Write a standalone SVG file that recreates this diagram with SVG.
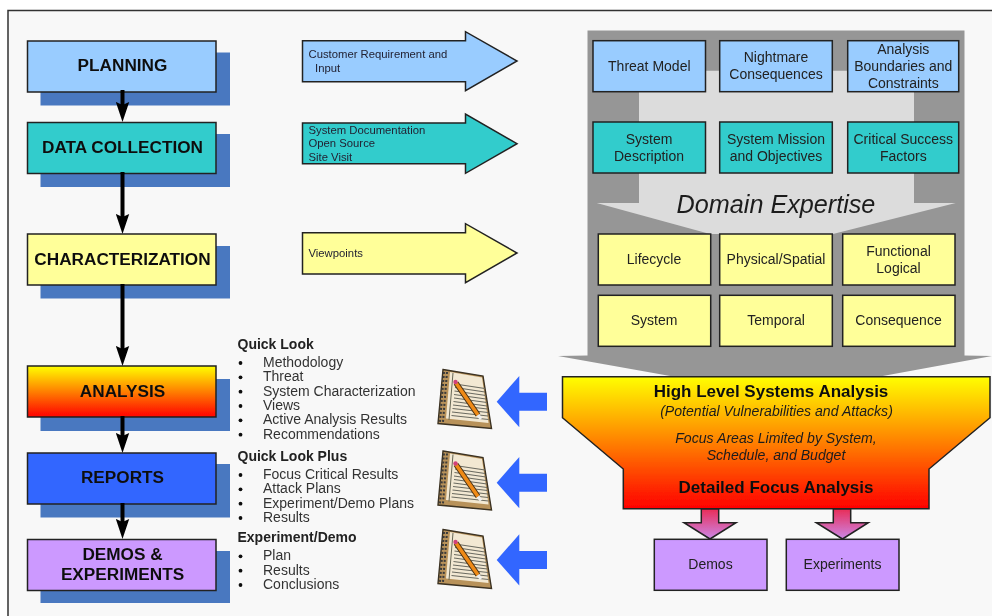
<svg xmlns="http://www.w3.org/2000/svg" xmlns:xlink="http://www.w3.org/1999/xlink" width="992" height="616" viewBox="0 0 992 616">
<style>
text{font-family:"Liberation Sans",Arial,sans-serif;fill:#1c1c1c}
.b{stroke:#222;stroke-width:1.5}
.sh{fill:#4a78c0}
.t{font-weight:bold;font-size:17.2px;text-anchor:middle;fill:#111}
.c{font-size:14px;text-anchor:middle;fill:#222}
.a{font-size:11.3px;fill:#223}
.h{font-weight:bold;font-size:14px;fill:#222}
.i{font-size:14px;fill:#333}
.blue{fill:#99ccff}.teal{fill:#33cccc}.yel{fill:#ffff99}.pur{fill:#cc99ff}
.bl{fill:#3366ff}
.con{stroke:#000;stroke-width:4;fill:none}
.hb{font-size:17px;font-weight:bold;text-anchor:middle;fill:#111}
.it{font-size:14.1px;font-style:italic;text-anchor:middle}
</style>
<defs>
<filter id="soft" filterUnits="userSpaceOnUse" x="0" y="0" width="992" height="616"><feGaussianBlur stdDeviation="0.45"/></filter>
<linearGradient id="fire" x1="0" y1="0" x2="0" y2="1"><stop offset="0" stop-color="#ffff00"/><stop offset="1" stop-color="#ff0000"/></linearGradient>
<linearGradient id="pink" x1="0" y1="0" x2="0" y2="1"><stop offset="0" stop-color="#e82c58"/><stop offset="1" stop-color="#cc88e8"/></linearGradient>
<marker id="ah" markerUnits="userSpaceOnUse" markerWidth="20" markerHeight="14" refX="4" refY="7" viewBox="0 0 20 14" orient="auto"><path d="M0 0.3L20 7L0 13.7L3 7Z" fill="#000"/></marker>
<g id="book">
<path d="M443 369.5L483 376L491.5 428.5L438 423.5Z" fill="#b8925a" stroke="#3a3020" stroke-width="1.4"/>
<path d="M450 372L482 377.5L488.5 423L446 418.5Z" fill="#f2e8d2"/>
<path d="M453 373L449 420" stroke="#665" stroke-width="1" fill="none"/>
<path d="M455 384L485 388.5M455 387.5L485 392M454.500 391L486 395.500M454 394.500L486 399M454 398L487 402.500M453.500 401.500L487 406M453 405L487.500 409M452.500 408.500L488 412.500M452 412L488 416M451.500 415.500L488.500 419.500" stroke="#6a6a60" stroke-width="1.1" fill="none"/>
<path d="M444 372L440 422M447 372L443 422" stroke="#3a3a3a" stroke-width="2" stroke-dasharray="2 2" fill="none"/>
<path d="M456 383L478 415" stroke="#4a3214" stroke-width="5.5"/>
<path d="M456 383L478 415" stroke="#ef8a18" stroke-width="3.5"/>
<circle cx="455.500" cy="382" r="2.2" fill="#d0407a"/>
<path d="M478 415L481 419" stroke="#eee" stroke-width="3"/>
</g>
<path id="lArrow" d="M547 392.7H519.3V376L496.7 401.7L519.3 427.3V410.7H547Z"/>
</defs>
<rect width="992" height="616" fill="#fff"/>
<g filter="url(#soft)">
<path id="frame" d="M8 630V10.5H1010V630Z" fill="#f8f8f8" stroke="#333" stroke-width="1.5"/>

<g id="panel">
<path d="M587.5 30.5H964.5V355.5L992 356L880 376.5H673L558 356L587.5 355.5Z" fill="#969696"/>
<path d="M639 70.7H914V203L955.7 203L833 234H710L596.7 203L639 203Z" fill="#dcdcdc"/>
</g>

<g id="planning"><rect class="sh" x="40.5" y="52.5" width="189.5" height="53"/><rect class="b blue" x="27.5" y="41" width="188.5" height="51"/><text class="t" x="122.500" y="71">PLANNING</text></g>
<g id="data-collection"><rect class="sh" x="40.5" y="134" width="189.5" height="53"/><rect class="b teal" x="27.5" y="122.5" width="188.5" height="51"/><text class="t" x="122.500" y="152.5">DATA COLLECTION</text></g>
<g id="characterization"><rect class="sh" x="40.5" y="246" width="189.5" height="52.5"/><rect class="b yel" x="27.5" y="234" width="188.5" height="51"/><text class="t" x="122.500" y="264.500">CHARACTERIZATION</text></g>
<g id="analysis"><rect class="sh" x="40.5" y="379" width="189.5" height="52"/><rect class="b" fill="url(#fire)" x="27.5" y="366" width="188.5" height="51"/><text class="t" x="122.500" y="396.500">ANALYSIS</text></g>
<g id="reports"><rect class="sh" x="40.5" y="464" width="189.5" height="53.5"/><rect class="b bl" x="27.5" y="453" width="188.5" height="51"/><text class="t" x="122.500" y="483">REPORTS</text></g>
<g id="demos-experiments"><rect class="sh" x="40.5" y="551" width="189.5" height="52"/><rect class="b pur" x="27.5" y="539.5" width="188.5" height="51"/><text class="t" x="122.500" y="559.500">DEMOS &amp;</text><text class="t" x="122.500" y="580">EXPERIMENTS</text></g>

<g id="connectors">
<path class="con" d="M122.500 90V106" marker-end="url(#ah)"/>
<path class="con" d="M122.500 172V218" marker-end="url(#ah)"/>
<path class="con" d="M122.500 284V350" marker-end="url(#ah)"/>
<path class="con" d="M122.500 416V437" marker-end="url(#ah)"/>
<path class="con" d="M122.500 503V523" marker-end="url(#ah)"/>
</g>

<g id="input-customer"><path class="b blue" d="M302.5 40.7H465.5V31.7L517 61L465.5 90.7V81.7H302.5Z"/><text class="a" x="308.5" y="57.5">Customer Requirement and</text><text class="a" x="315" y="71.5">Input</text></g>
<g id="input-documentation"><path class="b teal" d="M302.5 123H465.5V114L517 143.7L465.5 173.3V163.7H302.5Z"/><text class="a" x="308.5" y="133.5">System Documentation</text><text class="a" x="308.5" y="147">Open Source</text><text class="a" x="308.5" y="160.5">Site Visit</text></g>
<g id="input-viewpoints"><path class="b yel" d="M302.5 232.7H465.5V223.7L517 253L465.5 282.7V274H302.5Z"/><text class="a" x="308.5" y="256.5">Viewpoints</text></g>

<g id="threat-model"><rect class="b blue" x="593" y="40.7" width="112.5" height="51"/><text class="c" x="649.3" y="70.5">Threat Model</text></g>
<g id="nightmare"><rect class="b blue" x="719.7" y="40.7" width="112.6" height="51"/><text class="c" x="776" y="62">Nightmare</text><text class="c" x="776" y="79">Consequences</text></g>
<g id="boundaries"><rect class="b blue" x="847.7" y="40.7" width="111" height="51"/><text class="c" x="903.3" y="53.5">Analysis</text><text class="c" x="903.3" y="70.5">Boundaries and</text><text class="c" x="903.3" y="87.5">Constraints</text></g>
<g id="system-description"><rect class="b teal" x="593" y="122" width="112.5" height="51"/><text class="c" x="649" y="143.5">System</text><text class="c" x="649" y="160.5">Description</text></g>
<g id="mission"><rect class="b teal" x="719.7" y="122" width="112.6" height="51"/><text class="c" x="776" y="143.5">System Mission</text><text class="c" x="776" y="160.5">and Objectives</text></g>
<g id="success"><rect class="b teal" x="847.7" y="122" width="111" height="51"/><text class="c" x="903.3" y="143.5">Critical Success</text><text class="c" x="903.3" y="160.5">Factors</text></g>

<text id="domain" x="776" y="213" font-size="25.2" font-style="italic" text-anchor="middle">Domain Expertise</text>

<g id="lifecycle"><rect class="b yel" x="598.3" y="234" width="112.4" height="51"/><text class="c" x="654" y="264">Lifecycle</text></g>
<g id="physical"><rect class="b yel" x="719.7" y="234" width="112.6" height="51"/><text class="c" x="776" y="264">Physical/Spatial</text></g>
<g id="functional"><rect class="b yel" x="842.7" y="234" width="112.3" height="51"/><text class="c" x="898.5" y="255.5">Functional</text><text class="c" x="898.5" y="272.5">Logical</text></g>
<g id="system"><rect class="b yel" x="598.3" y="295.3" width="112.4" height="51"/><text class="c" x="654" y="325">System</text></g>
<g id="temporal"><rect class="b yel" x="719.7" y="295.3" width="112.6" height="51"/><text class="c" x="776" y="325">Temporal</text></g>
<g id="consequence"><rect class="b yel" x="842.7" y="295.3" width="112.3" height="51"/><text class="c" x="898.5" y="325">Consequence</text></g>

<g id="funnel"><path class="b" fill="url(#fire)" d="M562.5 376.7H990V417.7L929 469V508.7H623.3V469L562.5 417.7Z"/>
<text class="hb" x="771" y="396.7">High Level Systems Analysis</text>
<text class="it" x="776.500" y="415.7">(Potential Vulnerabilities and Attacks)</text>
<text class="it" x="776" y="443">Focus Areas Limited by System,</text>
<text class="it" x="776" y="460">Schedule, and Budget</text>
<text class="hb" x="776" y="493">Detailed Focus Analysis</text></g>

<g id="arrows-down">
<path class="b" stroke-width="1" fill="url(#pink)" d="M701.3 509V522.7H684L710 539L736 522.7H718.7V509Z"/>
<path class="b" stroke-width="1" fill="url(#pink)" d="M833.3 509V522.7H816.3L842.5 539L868.3 522.7H850.7V509Z"/>
</g>
<g id="demos"><rect class="b pur" x="654.3" y="539.3" width="112.7" height="51"/><text class="c" x="710.5" y="569">Demos</text></g>
<g id="experiments"><rect class="b pur" x="786.3" y="539.3" width="112.7" height="51"/><text class="c" x="842.5" y="569">Experiments</text></g>

<g id="quick-look">
<text class="h" x="237.5" y="349">Quick Look</text>
<text class="i" x="263" y="367">Methodology</text><text class="i" x="263" y="381.3">Threat</text><text class="i" x="263" y="395.7">System Characterization</text><text class="i" x="263" y="410">Views</text><text class="i" x="263" y="424.3">Active Analysis Results</text><text class="i" x="263" y="438.7">Recommendations</text>
<g fill="#111"><circle cx="240.5" cy="363" r="1.9"/><circle cx="240.5" cy="377.3" r="1.9"/><circle cx="240.5" cy="391.7" r="1.9"/><circle cx="240.5" cy="406" r="1.9"/><circle cx="240.5" cy="420.3" r="1.9"/><circle cx="240.5" cy="434.7" r="1.9"/></g>
</g>
<g id="quick-look-plus">
<text class="h" x="237.5" y="460.7">Quick Look Plus</text>
<text class="i" x="263" y="479">Focus Critical Results</text><text class="i" x="263" y="493.3">Attack Plans</text><text class="i" x="263" y="507.7">Experiment/Demo Plans</text><text class="i" x="263" y="522">Results</text>
<g fill="#111"><circle cx="240.5" cy="475" r="1.9"/><circle cx="240.5" cy="489.3" r="1.9"/><circle cx="240.5" cy="503.7" r="1.9"/><circle cx="240.5" cy="518" r="1.9"/></g>
</g>
<g id="experiment-demo">
<text class="h" x="237.5" y="542.3">Experiment/Demo</text>
<text class="i" x="263" y="560.3">Plan</text><text class="i" x="263" y="574.7">Results</text><text class="i" x="263" y="589">Conclusions</text>
<g fill="#111"><circle cx="240.5" cy="556.3" r="1.9"/><circle cx="240.5" cy="570.7" r="1.9"/><circle cx="240.5" cy="585" r="1.9"/></g>
</g>

<g id="notebook-1"><use href="#book"/></g>
<g id="notebook-2"><use href="#book" y="81.5"/></g>
<g id="notebook-3"><use href="#book" y="160"/></g>
<g id="feedback-arrows" class="bl"><use href="#lArrow"/><use href="#lArrow" y="81"/><use href="#lArrow" y="158.3"/></g>
</g>
</svg>
